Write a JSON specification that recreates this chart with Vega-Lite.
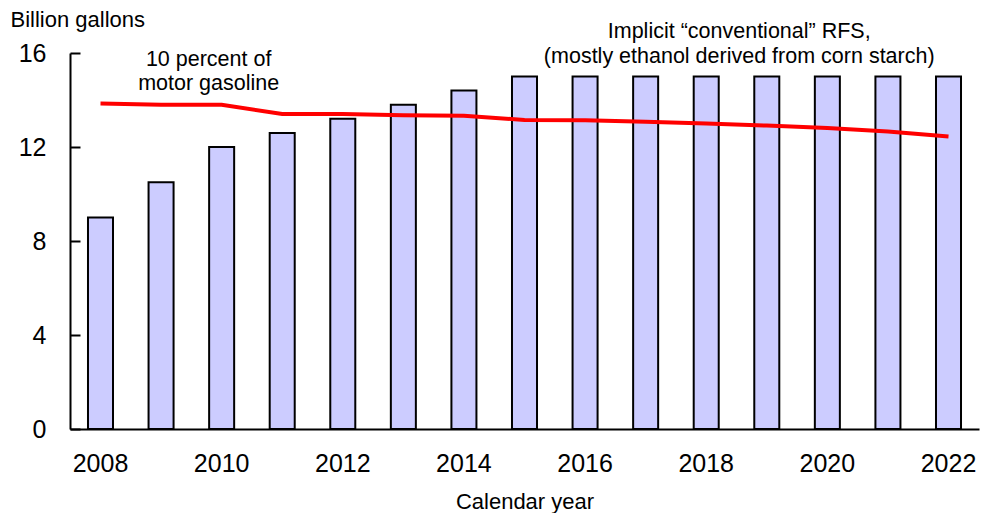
{
  "$schema": "https://vega.github.io/schema/vega-lite/v6.json",
  "width": 909,
  "height": 376,
  "autosize": {"type": "none"},
  "padding": {"left": 70, "top": 53, "right": 2, "bottom": 84},
  "background": "white",
  "config": {
    "view": {"stroke": null},
    "font": "Liberation Sans",
    "axis": {"labelFont": "Liberation Sans", "titleFont": "Liberation Sans", "labelColor": "black", "titleColor": "black", "domainColor": "black", "tickColor": "black", "titleFontWeight": "normal"}
  },
  "datasets": {
    "main": [
      {"year": "2008", "rfs": 9.0, "gasoline10": 13.85},
      {"year": "2009", "rfs": 10.5, "gasoline10": 13.8},
      {"year": "2010", "rfs": 12.0, "gasoline10": 13.8},
      {"year": "2011", "rfs": 12.6, "gasoline10": 13.4},
      {"year": "2012", "rfs": 13.2, "gasoline10": 13.4},
      {"year": "2013", "rfs": 13.8, "gasoline10": 13.35},
      {"year": "2014", "rfs": 14.4, "gasoline10": 13.33},
      {"year": "2015", "rfs": 15.0, "gasoline10": 13.15},
      {"year": "2016", "rfs": 15.0, "gasoline10": 13.14},
      {"year": "2017", "rfs": 15.0, "gasoline10": 13.07},
      {"year": "2018", "rfs": 15.0, "gasoline10": 13.0},
      {"year": "2019", "rfs": 15.0, "gasoline10": 12.91},
      {"year": "2020", "rfs": 15.0, "gasoline10": 12.81},
      {"year": "2021", "rfs": 15.0, "gasoline10": 12.66},
      {"year": "2022", "rfs": 15.0, "gasoline10": 12.45}
    ]
  },
  "layer": [
    {
      "data": {"name": "main"},
      "mark": {"type": "bar", "fill": "#CCCCFF", "stroke": "black", "strokeWidth": 2},
      "encoding": {
        "x": {
          "field": "year", "type": "nominal", "sort": null,
          "scale": {"paddingInner": 0.587, "paddingOuter": 0.297},
          "axis": {
            "title": "Calendar year", "titleFontSize": 22, "titlePadding": 15,
            "values": ["2008", "2010", "2012", "2014", "2016", "2018", "2020", "2022"],
            "labelAngle": 0, "labelFontSize": 25, "labelPadding": 22, "ticks": false,
            "domainWidth": 2
          }
        },
        "y": {
          "field": "rfs", "type": "quantitative",
          "scale": {"domain": [0, 16], "nice": false},
          "axis": {
            "values": [0, 4, 8, 12, 16], "grid": false,
            "tickSize": -10, "tickWidth": 2, "domainWidth": 2,
            "labelFontSize": 25, "labelPadding": 34,
            "title": "Billion gallons", "titleFontSize": 22, "titleAngle": 0,
            "titleAlign": "left", "titleBaseline": "middle", "titleX": -60, "titleY": -34
          }
        }
      }
    },
    {
      "data": {"name": "main"},
      "mark": {"type": "line", "color": "#FF0000", "strokeWidth": 4},
      "encoding": {
        "x": {"field": "year", "type": "nominal", "sort": null},
        "y": {"field": "gasoline10", "type": "quantitative"}
      }
    },
    {
      "data": {"values": [{"year": "2010", "v": 15.69, "label": ["10 percent of", "motor gasoline"]}]},
      "mark": {"type": "text", "fontSize": 21.5, "align": "center", "baseline": "middle", "lineHeight": 24, "clip": false, "color": "black", "dx": -13},
      "encoding": {
        "x": {"field": "year", "type": "nominal", "sort": null},
        "y": {"field": "v", "type": "quantitative"},
        "text": {"field": "label"}
      }
    },
    {
      "data": {"values": [{"year": "2018", "v": 16.88, "label": ["Implicit \u201cconventional\u201d RFS,", "(mostly ethanol derived from corn starch)"]}]},
      "mark": {"type": "text", "fontSize": 21.5, "align": "center", "baseline": "middle", "lineHeight": 25, "clip": false, "color": "black", "dx": 33},
      "encoding": {
        "x": {"field": "year", "type": "nominal", "sort": null},
        "y": {"field": "v", "type": "quantitative"},
        "text": {"field": "label"}
      }
    }
  ]
}
